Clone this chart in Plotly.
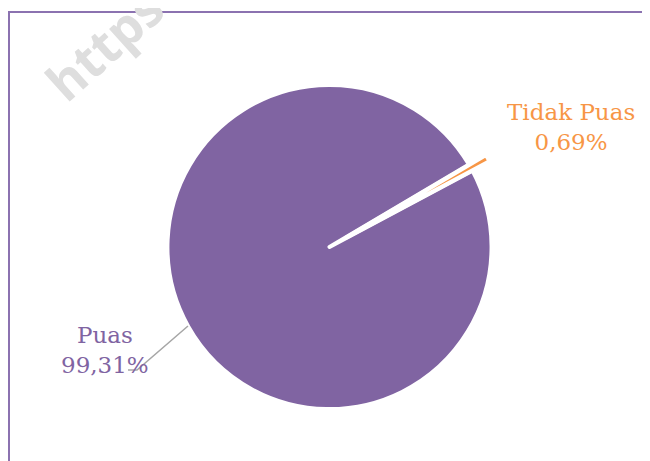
import plotly.graph_objects as go

labels = ["Puas", "Tidak Puas"]
values = [99.31, 0.69]
colors = ["#8064A2", "#F79646"]

OFF = 8  # page body margin offset
W, H = 650 - OFF, 461 - OFF


def px(x):
    return (x - OFF) / W


def py(y):
    return 1 - (y - OFF) / H


cx, cy = 329.5, 247
side = 363
fig = go.Figure()
fig.add_trace(go.Pie(
    labels=labels, values=values, sort=False, direction="clockwise",
    rotation=61.9, pull=[0, 0.12],
    marker=dict(colors=colors, line=dict(color="white", width=4)),
    textinfo="none", hoverinfo="label+percent", showlegend=False,
    domain=dict(x=[px(cx - side / 2), px(cx + side / 2)],
                y=[py(cy + side / 2), py(cy - side / 2)]),
))


def fmt(v):
    return f"{v:.2f}".replace(".", ",") + "%"


label_pos = [(105, 350), (571, 127)]
annotations = []
for lab, val, col, (x, y) in zip(labels, values, colors, label_pos):
    annotations.append(dict(
        x=px(x), y=py(y), xref="paper", yref="paper", showarrow=False,
        text=f"{lab}<br>{fmt(val)}", align="center",
        font=dict(family="DejaVu Serif", size=23, color=col),
        xanchor="center", yanchor="middle",
    ))

# watermark
annotations.append(dict(
    x=px(104), y=py(44), xref="paper", yref="paper", showarrow=False,
    text="<b>https</b>", textangle=-42,
    font=dict(family="Open Sans", size=51, color="#dedede"),
    xanchor="center", yanchor="middle",
))

shapes = [
    dict(type="path", xref="paper", yref="paper",
         path=f"M {px(128)} {py(370)} L {px(137)} {py(370)} L {px(188)} {py(326)}",
         line=dict(color="#A6A6A6", width=1.5)),
    dict(type="path", xref="paper", yref="paper",
         path=f"M {px(9)} {py(470)} L {px(9)} {py(12)} L {px(660)} {py(12)}",
         line=dict(color="#8B72B0", width=2), layer="below"),
]

fig.update_layout(
    width=W, height=H, margin=dict(l=0, r=0, t=0, b=0),
    paper_bgcolor="white", plot_bgcolor="white",
    annotations=annotations, shapes=shapes,
)
fig.write_html("out.html")
